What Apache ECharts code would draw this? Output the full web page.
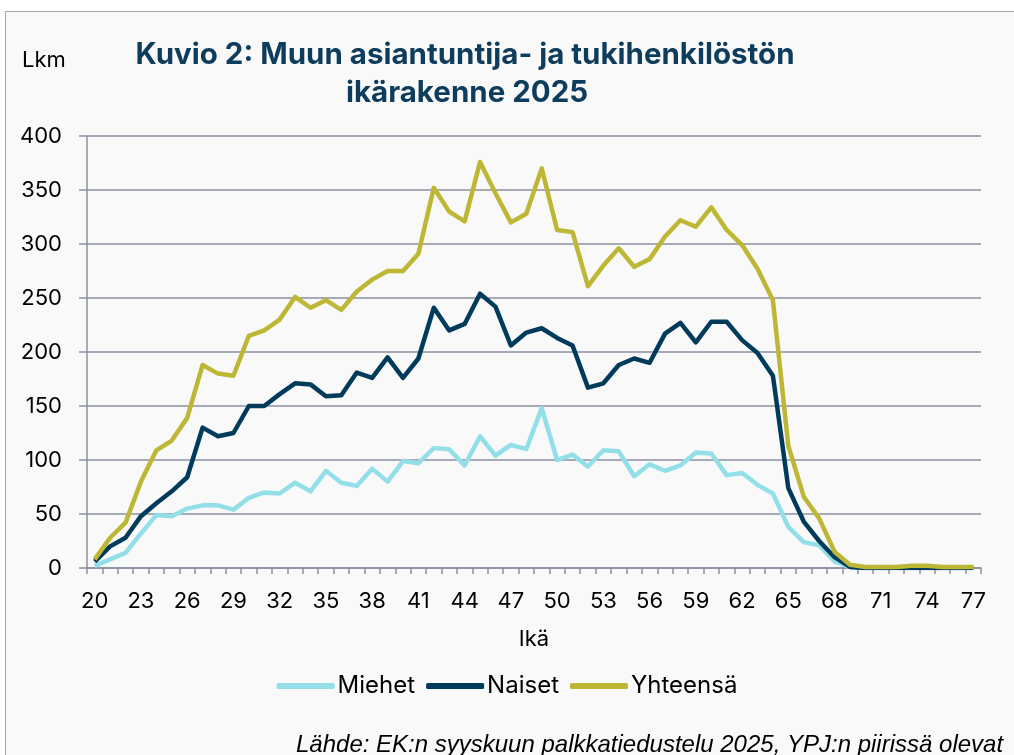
<!DOCTYPE html>
<html>
<head>
<meta charset="utf-8">
<script src="https://cdn.jsdelivr.net/npm/echarts@6/dist/echarts.min.js"></script>
<style>
  html, body { margin: 0; padding: 0; background: #ffffff; }
  #frame {
    position: absolute; left: 5px; top: 11px; width: 1020px; height: 760px;
    background: #f9f9f9; border-left: 1.5px solid #a5a8b5; border-top: 1.5px solid #a5a8b5;
  }
  #chart { position: absolute; left: 0; top: 0; width: 1014px; height: 755px; }
</style>
</head>
<body>
<div id="frame"></div>
<div id="chart"></div>
<script>
// age categories 20..77
const ages = [
  "20","21","22","23","24","25","26","27","28","29",
  "30","31","32","33","34","35","36","37","38","39",
  "40","41","42","43","44","45","46","47","48","49",
  "50","51","52","53","54","55","56","57","58","59",
  "60","61","62","63","64","65","66","67","68","69",
  "70","71","72","73","74","75","76","77"
];

const miehet = [
  2, 8, 14, 32, 49, 48, 55, 58, 58, 54,
  65, 70, 69, 79, 71, 90, 79, 76, 92, 80,
  99, 97, 111, 110, 95, 122, 104, 114, 110, 148,
  100, 105, 94, 109, 108, 85, 96, 90, 95, 107,
  106, 86, 88, 77, 69, 38, 24, 21, 6, 1,
  0, 0, 0, 0, 0, 0, 0, 0
];

const naiset = [
  6, 20, 28, 48, 60, 71, 84, 130, 122, 125,
  150, 150, 161, 171, 170, 159, 160, 181, 176, 195,
  176, 194, 241, 220, 226, 254, 242, 206, 218, 222,
  213, 206, 167, 171, 188, 194, 190, 217, 227, 209,
  228, 228, 211, 199, 178, 74, 43, 25, 10, 1,
  0, 0, 0, 0, 0, 0, 0, 0
];

const yhteensa = [
  8, 28, 42, 80, 109, 118, 139, 188, 180, 178,
  215, 220, 230, 251, 241, 248, 239, 256, 267, 275,
  275, 291, 352, 330, 321, 376, 347, 320, 328, 370,
  313, 311, 261, 280, 296, 279, 286, 307, 322, 316,
  334, 313, 299, 277, 248, 113, 66, 46, 15, 3,
  1, 1, 1, 2, 2, 1, 1, 1
];

const yTicks = { min: 0, max: 400, interval: 50 };

const titleLines = ["Kuvio 2: Muun asiantuntija- ja tukihenkilöstön", "ikärakenne 2025"];
const sourceText = "Lähde: EK:n syyskuun palkkatiedustelu 2025, YPJ:n piirissä olevat";

const axisColor = "#8b90a1";
const font = "Inter";

const chart = echarts.init(document.getElementById("chart"), null, { renderer: "canvas" });

chart.setOption({
  backgroundColor: "transparent",
  animation: false,
  textStyle: { fontFamily: font, color: "#000" },
  graphic: [
    {
      type: "text",
      style: {
        x: 465, y: 55, text: titleLines[0], textAlign: "center", textVerticalAlign: "middle",
        font: "bold 29.5px Inter", fill: "#0d3c5d"
      }
    },
    {
      type: "text",
      style: {
        x: 467, y: 93, text: titleLines[1], textAlign: "center", textVerticalAlign: "middle",
        font: "bold 29.5px Inter", fill: "#0d3c5d"
      }
    },
    {
      type: "text",
      style: {
        x: 22, y: 60, text: "Lkm", textVerticalAlign: "middle",
        font: "22px Inter", fill: "#000"
      }
    },
    {
      type: "text",
      style: {
        x: 296, y: 745, text: sourceText, textVerticalAlign: "middle",
        font: "italic 24px 'Liberation Sans'", fill: "#000"
      }
    }
  ],
  grid: { left: 87, right: 33, top: 136, bottom: 187 },
  legend: {
    top: 669,
    left: "center",
    icon: "roundRect",
    itemWidth: 58,
    itemHeight: 6,
    itemGap: 11,
    textStyle: { fontSize: 24, color: "#000", fontFamily: font, padding: [0, 0, 0, -2] },
    data: ["Miehet", "Naiset", "Yhteensä"]
  },
  xAxis: {
    type: "category",
    data: ages,
    boundaryGap: true,
    name: "Ikä",
    nameLocation: "middle",
    nameGap: 60,
    nameTextStyle: { fontSize: 22, color: "#000" },
    axisLine: { lineStyle: { color: axisColor, width: 1.5 } },
    axisTick: { show: true, interval: 0, length: 6, lineStyle: { color: axisColor, width: 1.5 } },
    axisLabel: { interval: 2, fontSize: 22, color: "#000", margin: 22 },
    splitLine: { show: false }
  },
  yAxis: {
    type: "value",
    min: yTicks.min,
    max: yTicks.max,
    interval: yTicks.interval,
    axisLine: { show: true, lineStyle: { color: axisColor, width: 1.5 } },
    axisTick: { show: true, length: 8, lineStyle: { color: axisColor, width: 1.5 } },
    axisLabel: { fontSize: 22, color: "#000", margin: 25 },
    splitLine: { lineStyle: { color: axisColor, width: 1.5 } }
  },
  series: [
    {
      name: "Miehet", type: "line", data: miehet, symbol: "none",
      itemStyle: { color: "#93dfe9" },
      lineStyle: { color: "#93dfe9", width: 4.5, join: "round" }
    },
    {
      name: "Naiset", type: "line", data: naiset, symbol: "none",
      itemStyle: { color: "#003b5c" },
      lineStyle: { color: "#003b5c", width: 4.5, join: "round" }
    },
    {
      name: "Yhteensä", type: "line", data: yhteensa, symbol: "none",
      itemStyle: { color: "#bdb735" },
      lineStyle: { color: "#bdb735", width: 4.5, join: "round" }
    }
  ]
});
</script>
</body>
</html>
